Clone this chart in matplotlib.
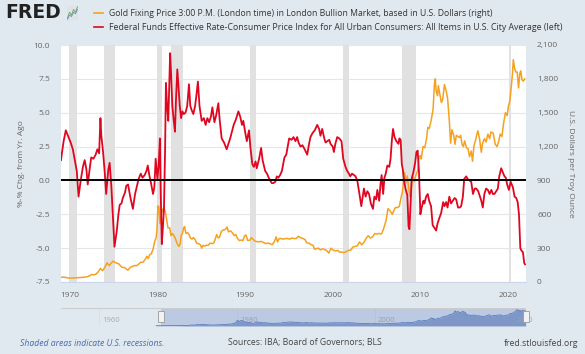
"""FRED chart: gold price vs real fed funds rate."""

import matplotlib.pyplot as plt
from matplotlib.patches import Rectangle
from matplotlib.transforms import blended_transform_factory

plt.rcParams["font.family"] = ["Open Sans", "DejaVu Sans"]

# +
# Federal Funds Effective Rate minus CPI inflation, %-% (left axis)
red_years = [
    1969.0, 1969.1, 1969.3, 1969.55, 1969.8, 1970.1, 1970.35, 1970.55, 1970.8,
    1971.0, 1971.25, 1971.5, 1971.7, 1971.9, 1972.05, 1972.3, 1972.45, 1972.7, 1972.95,
    1973.15, 1973.35, 1973.5, 1973.6, 1973.8, 1974.0, 1974.15, 1974.4, 1974.55, 1974.75,
    1974.95, 1975.1, 1975.35, 1975.55, 1975.7, 1975.9, 1976.05, 1976.3, 1976.45, 1976.65,
    1976.9, 1977.1, 1977.2, 1977.45, 1977.7, 1977.85, 1978.1, 1978.3, 1978.55, 1978.75,
    1978.9, 1979.1, 1979.3, 1979.5, 1979.65, 1979.8, 1980.0, 1980.15, 1980.28, 1980.38,
    1980.5, 1980.62, 1980.75, 1980.88, 1980.97, 1981.1, 1981.24, 1981.35, 1981.45, 1981.55,
    1981.7, 1981.85, 1982.0, 1982.12, 1982.27, 1982.4, 1982.55, 1982.7, 1982.85, 1983.0,
    1983.2, 1983.4, 1983.6, 1983.75, 1983.9, 1984.1, 1984.3, 1984.45, 1984.62, 1984.8,
    1985.05, 1985.3, 1985.5, 1985.7, 1985.9, 1986.1, 1986.27, 1986.5, 1986.7, 1986.95,
    1987.1, 1987.33, 1987.6, 1987.9, 1988.1, 1988.3, 1988.5, 1988.7, 1988.95, 1989.24,
    1989.45, 1989.65, 1989.8, 1990.0, 1990.2, 1990.45, 1990.6, 1990.83, 1991.0, 1991.2,
    1991.33, 1991.6, 1991.83, 1992.0, 1992.29, 1992.5, 1992.7, 1992.86, 1993.05, 1993.23,
    1993.45, 1993.62, 1993.8, 1994.0, 1994.2, 1994.49, 1994.7, 1995.03, 1995.3, 1995.52,
    1995.75, 1995.94, 1996.1, 1996.32, 1996.55, 1996.8, 1997.09, 1997.3, 1997.46, 1997.7,
    1997.95, 1998.23, 1998.45, 1998.6, 1998.8, 1999.0, 1999.18, 1999.4, 1999.6, 1999.75,
    2000.0, 2000.13, 2000.3, 2000.51, 2000.75, 2001.0, 2001.2, 2001.46, 2001.65, 2001.85,
    2002.0, 2002.2, 2002.42, 2002.6, 2002.8, 2003.0, 2003.26, 2003.4, 2003.56, 2003.75,
    2003.95, 2004.14, 2004.35, 2004.59, 2004.75, 2004.95, 2005.09, 2005.3, 2005.45, 2005.58,
    2005.75, 2005.9, 2006.05, 2006.23, 2006.45, 2006.6, 2006.75, 2006.88, 2007.05, 2007.26,
    2007.5, 2007.6, 2007.75, 2007.88, 2008.0, 2008.13, 2008.3, 2008.51, 2008.65, 2008.75,
    2008.9, 2009.0, 2009.2, 2009.4, 2009.55, 2009.69, 2009.85, 2010.0, 2010.15, 2010.35,
    2010.46, 2010.65, 2010.84, 2011.0, 2011.22, 2011.4, 2011.6, 2011.8, 2011.95, 2012.15,
    2012.37, 2012.6, 2012.75, 2012.94, 2013.1, 2013.3, 2013.5, 2013.7, 2013.9, 2014.08,
    2014.3, 2014.5, 2014.65, 2014.85, 2015.0, 2015.22, 2015.4, 2015.6, 2015.8, 2016.0,
    2016.2, 2016.37, 2016.6, 2016.8, 2016.95, 2017.12, 2017.3, 2017.5, 2017.7, 2017.9,
    2018.1, 2018.27, 2018.45, 2018.65, 2018.84, 2019.0, 2019.22, 2019.4, 2019.6, 2019.75,
    2019.9, 2020.1, 2020.3, 2020.55, 2020.75, 2020.94, 2021.1, 2021.25, 2021.4, 2021.55,
    2021.7, 2021.85, 2021.95,
]
red_values = [
    1.5, 2.0, 2.9, 3.7, 3.3, 2.8, 2.3, 1.6, 0.7,
    -1.2, 0.0, 1.0, 1.5, 0.8, -0.3, 1.0, 1.7, 1.6, 1.9,
    2.3, 2.0, 4.6, 3.3, 2.1, 0.5, -1.0, 0.8, 1.3, -0.5,
    -3.0, -4.9, -3.8, -2.5, -1.8, -1.7, -1.3, -0.9, -0.4, -0.3,
    -1.2, -1.8, -2.1, -1.0, -0.3, 0.1, 0.5, 0.2, 0.4, 0.7,
    1.1, 0.3, -0.3, -1.0, -0.5, 1.6, 0.1, 1.2, 3.1, -1.0,
    -4.7, -3.5, -2.0, 2.5, 7.2, 5.5, 4.4, 7.0, 9.4, 8.0,
    5.5, 4.5, 3.6, 6.0, 8.2, 7.0, 5.5, 4.6, 5.1, 4.9,
    5.0, 5.5, 7.1, 5.5, 5.2, 4.9, 5.5, 6.3, 7.3, 5.5,
    4.4, 4.6, 4.1, 4.6, 4.3, 4.7, 5.4, 4.3, 4.8, 5.7,
    4.5, 3.1, 2.8, 2.3, 2.7, 3.1, 3.6, 4.1, 4.5, 5.1,
    4.7, 4.1, 4.4, 3.6, 2.9, 3.7, 2.5, 1.2, 1.0, 1.4,
    0.9, 1.6, 2.4, 1.5, 0.7, 0.5, 0.2, 0.0, -0.2, -0.2,
    -0.1, 0.3, 0.2, 0.4, 0.7, 1.7, 1.9, 3.1, 3.0, 3.2,
    2.9, 3.2, 2.8, 2.5, 2.6, 2.3, 1.9, 2.7, 3.2, 3.5,
    3.7, 4.1, 3.8, 3.3, 3.8, 3.2, 2.8, 2.9, 3.0, 2.7,
    2.5, 2.1, 2.7, 3.2, 3.1, 2.9, 1.6, 1.0, 0.7, 0.5,
    0.3, 0.5, 0.4, 0.3, 0.0, -0.8, -1.9, -1.3, -0.6, -1.2,
    -0.8, -1.0, -1.7, -2.1, -1.2, -1.4, -0.7, -1.5, -0.3, 0.4,
    -1.0, 0.2, 0.5, 1.1, 1.0, 1.6, 3.0, 3.8, 3.2, 2.9,
    2.7, 3.1, 3.0, 1.2, 0.8, 0.0, -0.6, -1.1, -3.4, -3.6,
    -1.5, 0.1, 0.6, 1.3, 2.1, 2.2, 0.5, -2.5, -2.0, -1.5,
    -1.7, -1.2, -1.0, -1.5, -1.9, -3.3, -3.5, -3.7, -3.2, -2.8,
    -2.4, -1.6, -1.9, -1.6, -2.0, -1.2, -1.7, -1.5, -1.3, -1.4,
    -2.0, -2.0, -1.9, -1.2, 0.1, 0.3, 0.1, 0.0, -0.1, -1.0,
    -0.6, -0.6, -0.8, -1.2, -1.5, -2.0, -1.0, -0.6, -0.7, -1.0,
    -0.7, -1.0, -1.0, -0.8, -0.6, 0.3, 0.9, 0.6, 0.3, 0.2,
    -0.3, -0.7, -0.1, -0.5, -1.2, -1.3, -1.6, -2.5, -5.0, -5.2,
    -5.3, -6.1, -6.2,
]

# Gold fixing price, U.S. dollars per troy ounce (right axis)
gold_years = [
    1968.3, 1968.6, 1968.9, 1969.0, 1969.25, 1969.5, 1969.75, 1970.0, 1970.25, 1970.5,
    1970.75, 1971.0, 1971.25, 1971.5, 1971.75, 1972.0, 1972.25, 1972.5, 1972.75, 1973.0,
    1973.25, 1973.5, 1973.75, 1974.0, 1974.25, 1974.5, 1974.75, 1974.95, 1975.1, 1975.35,
    1975.6, 1975.8, 1976.0, 1976.25, 1976.5, 1976.65, 1976.9, 1977.1, 1977.4, 1977.65,
    1977.9, 1978.1, 1978.35, 1978.6, 1978.8, 1978.95, 1979.1, 1979.3, 1979.5, 1979.7,
    1979.85, 1979.95, 1980.05, 1980.15, 1980.3, 1980.45, 1980.6, 1980.75, 1980.9, 1981.05,
    1981.2, 1981.4, 1981.55, 1981.7, 1981.9, 1982.05, 1982.25, 1982.45, 1982.6, 1982.7,
    1982.85, 1983.0, 1983.1, 1983.25, 1983.45, 1983.6, 1983.75, 1983.95, 1984.1, 1984.3,
    1984.5, 1984.7, 1984.9, 1985.05, 1985.2, 1985.4, 1985.6, 1985.8, 1986.0, 1986.2,
    1986.4, 1986.6, 1986.75, 1986.95, 1987.1, 1987.3, 1987.55, 1987.75, 1987.95, 1988.1,
    1988.35, 1988.55, 1988.75, 1988.95, 1989.1, 1989.35, 1989.55, 1989.75, 1989.95, 1990.1,
    1990.3, 1990.55, 1990.7, 1990.9, 1991.1, 1991.35, 1991.6, 1991.85, 1992.1, 1992.35,
    1992.6, 1992.85, 1993.1, 1993.35, 1993.55, 1993.7, 1993.9, 1994.1, 1994.35, 1994.6,
    1994.85, 1995.1, 1995.35, 1995.6, 1995.85, 1996.05, 1996.35, 1996.6, 1996.85, 1997.05,
    1997.3, 1997.55, 1997.75, 1997.95, 1998.1, 1998.35, 1998.6, 1998.85, 1999.05, 1999.3,
    1999.55, 1999.8, 2000.0, 2000.3, 2000.55, 2000.8, 2001.05, 2001.3, 2001.55, 2001.8,
    2002.05, 2002.3, 2002.55, 2002.8, 2003.05, 2003.3, 2003.55, 2003.8, 2004.05, 2004.3,
    2004.55, 2004.8, 2005.05, 2005.3, 2005.55, 2005.8, 2005.95, 2006.1, 2006.3, 2006.55,
    2006.8, 2006.95, 2007.15, 2007.4, 2007.6, 2007.8, 2007.95, 2008.1, 2008.2, 2008.35,
    2008.5, 2008.65, 2008.8, 2008.95, 2009.1, 2009.3, 2009.5, 2009.7, 2009.85, 2010.0,
    2010.1, 2010.3, 2010.5, 2010.7, 2010.85, 2011.0, 2011.2, 2011.45, 2011.6, 2011.7,
    2011.8, 2011.95, 2012.05, 2012.2, 2012.4, 2012.55, 2012.75, 2012.95, 2013.1, 2013.3,
    2013.45, 2013.6, 2013.8, 2013.95, 2014.1, 2014.25, 2014.45, 2014.6, 2014.75, 2014.9,
    2015.05, 2015.25, 2015.45, 2015.6, 2015.8, 2015.95, 2016.1, 2016.3, 2016.55, 2016.75,
    2016.95, 2017.1, 2017.3, 2017.5, 2017.7, 2017.9, 2018.05, 2018.3, 2018.55, 2018.75,
    2018.95, 2019.1, 2019.3, 2019.5, 2019.7, 2019.9, 2020.05, 2020.2, 2020.35, 2020.5,
    2020.6, 2020.75, 2020.9, 2021.05, 2021.2, 2021.35, 2021.45, 2021.6, 2021.75, 2021.9,
]
gold_values = [
    38, 39, 41, 42, 43, 41, 36, 35, 35.5, 35.5,
    37, 38.5, 40, 42, 43, 47, 55, 66, 64, 70,
    90, 120, 100, 130, 170, 145, 170, 185, 176, 168,
    160, 142, 130, 128, 112, 105, 130, 136, 146, 145,
    162, 175, 175, 200, 228, 208, 240, 250, 290, 360,
    392, 459, 675, 665, 517, 600, 640, 660, 620, 557,
    480, 480, 410, 430, 410, 384, 340, 315, 340, 412,
    430, 480, 491, 430, 437, 423, 390, 380, 394, 375,
    342, 340, 330, 300, 325, 317, 326, 325, 345, 340,
    343, 380, 420, 390, 400, 450, 462, 465, 487, 445,
    452, 437, 412, 420, 390, 367, 372, 367, 409, 417,
    368, 370, 393, 380, 364, 358, 356, 360, 350, 340,
    345, 340, 330, 360, 400, 355, 385, 385, 380, 385,
    385, 380, 390, 385, 385, 405, 392, 386, 375, 346,
    344, 330, 325, 290, 295, 300, 285, 294, 288, 279,
    256, 300, 285, 275, 280, 265, 265, 260, 270, 280,
    282, 310, 315, 320, 355, 330, 350, 385, 410, 390,
    400, 430, 425, 430, 425, 470, 510, 550, 650, 630,
    600, 630, 660, 660, 670, 750, 800, 900, 970, 880,
    940, 840, 760, 815, 940, 890, 950, 990, 1110, 1120,
    1090, 1200, 1190, 1270, 1370, 1360, 1420, 1530, 1750, 1800,
    1690, 1650, 1740, 1670, 1590, 1620, 1750, 1690, 1630, 1430,
    1230, 1350, 1300, 1220, 1300, 1290, 1280, 1300, 1220, 1200,
    1250, 1190, 1180, 1110, 1160, 1070, 1200, 1260, 1340, 1270,
    1150, 1230, 1270, 1240, 1310, 1270, 1330, 1320, 1220, 1200,
    1250, 1310, 1290, 1410, 1500, 1475, 1560, 1600, 1710, 1840,
    1970, 1890, 1860, 1860, 1720, 1850, 1870, 1790, 1780, 1800,
]

# NBER recessions (start, end) in decimal years
recessions = [
    (1969.92, 1970.88), (1973.88, 1975.21), (1980.0, 1980.54), (1981.5, 1982.88),
    (1990.54, 1991.21), (2001.17, 2001.88), (2007.92, 2009.46), (2020.08, 2020.33),
]

x_ticks = [1970, 1980, 1990, 2000, 2010, 2020]
left_ticks = [-7.5, -5.0, -2.5, 0.0, 2.5, 5.0, 7.5, 10.0]
right_ticks = [0, 300, 600, 900, 1200, 1500, 1800, 2100]
nav_ticks = [1960, 1980, 2000, 2020]
# -

BG = "#e1e9f0"
ORANGE = "#f6a11e"
RED = "#e0061f"
TICK_COLOR = "#666666"
W, H = 585, 354
X0, X1 = 1969.0, 2022.05
NAV0, NAV1 = 1954.5, 2021.95

fig = plt.figure(figsize=(W / 100, H / 100), dpi=100, facecolor=BG)

# main plot: ax (left, red) on top, ax2 (right, gold) underneath with grid + recessions
ax = fig.add_axes([61 / W, 1 - 282 / H, 465 / W, 237 / H])
ax2 = ax.twinx()
ax.set_zorder(ax2.get_zorder() + 1)
ax.patch.set_visible(False)
ax2.patch.set_visible(True)
ax2.patch.set_facecolor("white")

ax.set_xlim(X0, X1)
ax.set_ylim(-7.5, 10.0)
ax2.set_ylim(0, 2100)

for start, end in recessions:
    ax2.axvspan(start, end, color="#e1e1e1", lw=0, zorder=1)

ax.set_xticks(x_ticks)
ax.set_yticks(left_ticks)
ax.set_yticklabels([f"{t:.1f}" for t in left_ticks])
ax2.set_yticks(right_ticks)
ax2.set_yticklabels([f"{t:,}" for t in right_ticks])

ax2.grid(True, color="#e6e6e6", lw=0.8, zorder=0)
ax2.set_axisbelow(True)
ax.grid(False)

ax.tick_params(length=0, labelsize=6, colors=TICK_COLOR)
ax.tick_params(axis="y", pad=8)
ax.tick_params(axis="x", pad=7)
ax2.tick_params(length=0, labelsize=6, colors=TICK_COLOR, pad=8)
for side in ["top", "left", "right"]:
    ax.spines[side].set_visible(False)
for side in ["top", "left", "right", "bottom"]:
    ax2.spines[side].set_visible(False)
ax.spines["bottom"].set_color("#ccd6eb")

ax.set_ylabel("%-% Chg. from Yr. Ago", fontsize=6, color=TICK_COLOR, labelpad=6)
ax2.set_ylabel("U.S. Dollars per Troy Ounce", fontsize=6, color=TICK_COLOR,
               rotation=270, labelpad=11)

ax2.plot(gold_years, gold_values, color=ORANGE, lw=1.1, zorder=3)
ax.plot(red_years, red_values, color=RED, lw=1.3, zorder=4)
ax.axhline(0, color="black", lw=1.4, zorder=5)

# navigator strip
nav = fig.add_axes([61 / W, 1 - 326 / H, 465 / W, 18 / H])
nav.patch.set_visible(False)
nav.set_xlim(NAV0, NAV1)
nav.set_ylim(0, 2150)
nav.set_xticks(nav_ticks)
nav.set_xticklabels([])
nav.set_yticks([])
nav.grid(axis="x", color="#d8dee6", lw=0.6)
nav.tick_params(length=0)
for s in nav.spines.values():
    s.set_visible(False)
nav.fill_between(gold_years, gold_values, color="#8aa0cc", lw=0, zorder=2)
nav.plot(gold_years, gold_values, color="#5a7bbd", lw=0.6, zorder=3)
nav.axvspan(X0, NAV1, color="#6685c2", alpha=0.3, lw=0, zorder=4)
nav.axhline(2150, color="#cccccc", lw=0.8, zorder=5)
trans = blended_transform_factory(nav.transData, nav.transAxes)
for t in nav_ticks:
    nav.text(t + 0.45, 0.28, str(t), transform=trans, fontsize=5.5,
             color="#aaaaaa", va="center", ha="left", zorder=3)
for hx in [X0, NAV1]:
    nav.add_patch(Rectangle((hx - 0.5, 0.2), 1.0, 0.62, transform=trans,
                            facecolor="#f2f2f2", edgecolor="#999999", lw=0.6,
                            zorder=6, clip_on=False))

# header
fig.text(5 / W, 1 - 13 / H, "FRED", fontsize=13.5, fontweight="bold",
         family="DejaVu Sans", color="#222222", va="center", ha="left")
icon = fig.add_axes([67 / W, 1 - 20 / H, 11 / W, 14 / H])
icon.set_facecolor("#dfe3e8")
icon.plot([0, 1, 2, 3, 4, 5], [1, 3, 2, 4, 3, 5], color="#6aa84f", lw=0.6)
icon.plot([0, 1, 2, 3, 4, 5], [0.5, 2, 1.5, 3, 2.5, 4], color="#6d8cc7", lw=0.6)
icon.set_xticks([])
icon.set_yticks([])
for s in icon.spines.values():
    s.set_visible(False)
fig.lines.append(plt.Line2D([94 / W, 103 / W], [1 - 13 / H] * 2, color=ORANGE, lw=1.2,
                            transform=fig.transFigure))
fig.lines.append(plt.Line2D([94 / W, 103 / W], [1 - 27 / H] * 2, color=RED, lw=1.2,
                            transform=fig.transFigure))
fig.text(109 / W, 1 - 13 / H,
         "Gold Fixing Price 3:00 P.M. (London time) in London Bullion Market, based in U.S. Dollars (right)",
         fontsize=6.2, color="#333333", va="center", ha="left")
fig.text(109 / W, 1 - 27 / H,
         "Federal Funds Effective Rate-Consumer Price Index for All Urban Consumers: All Items in U.S. City Average (left)",
         fontsize=6.3, color="#333333", va="center", ha="left")

# footer
fig.text(20 / W, 1 - 343 / H, "Shaded areas indicate U.S. recessions.", fontsize=6.2,
         style="italic", color="#4a6bb3", va="center", ha="left")
fig.text(228 / W, 1 - 343 / H, "Sources: IBA; Board of Governors; BLS", fontsize=6.2,
         color="#444444", va="center", ha="left")
fig.text(578 / W, 1 - 343 / H, "fred.stlouisfed.org", fontsize=6.2,
         color="#444444", va="center", ha="right")

fig.savefig("out.png", dpi=100, facecolor=BG)
